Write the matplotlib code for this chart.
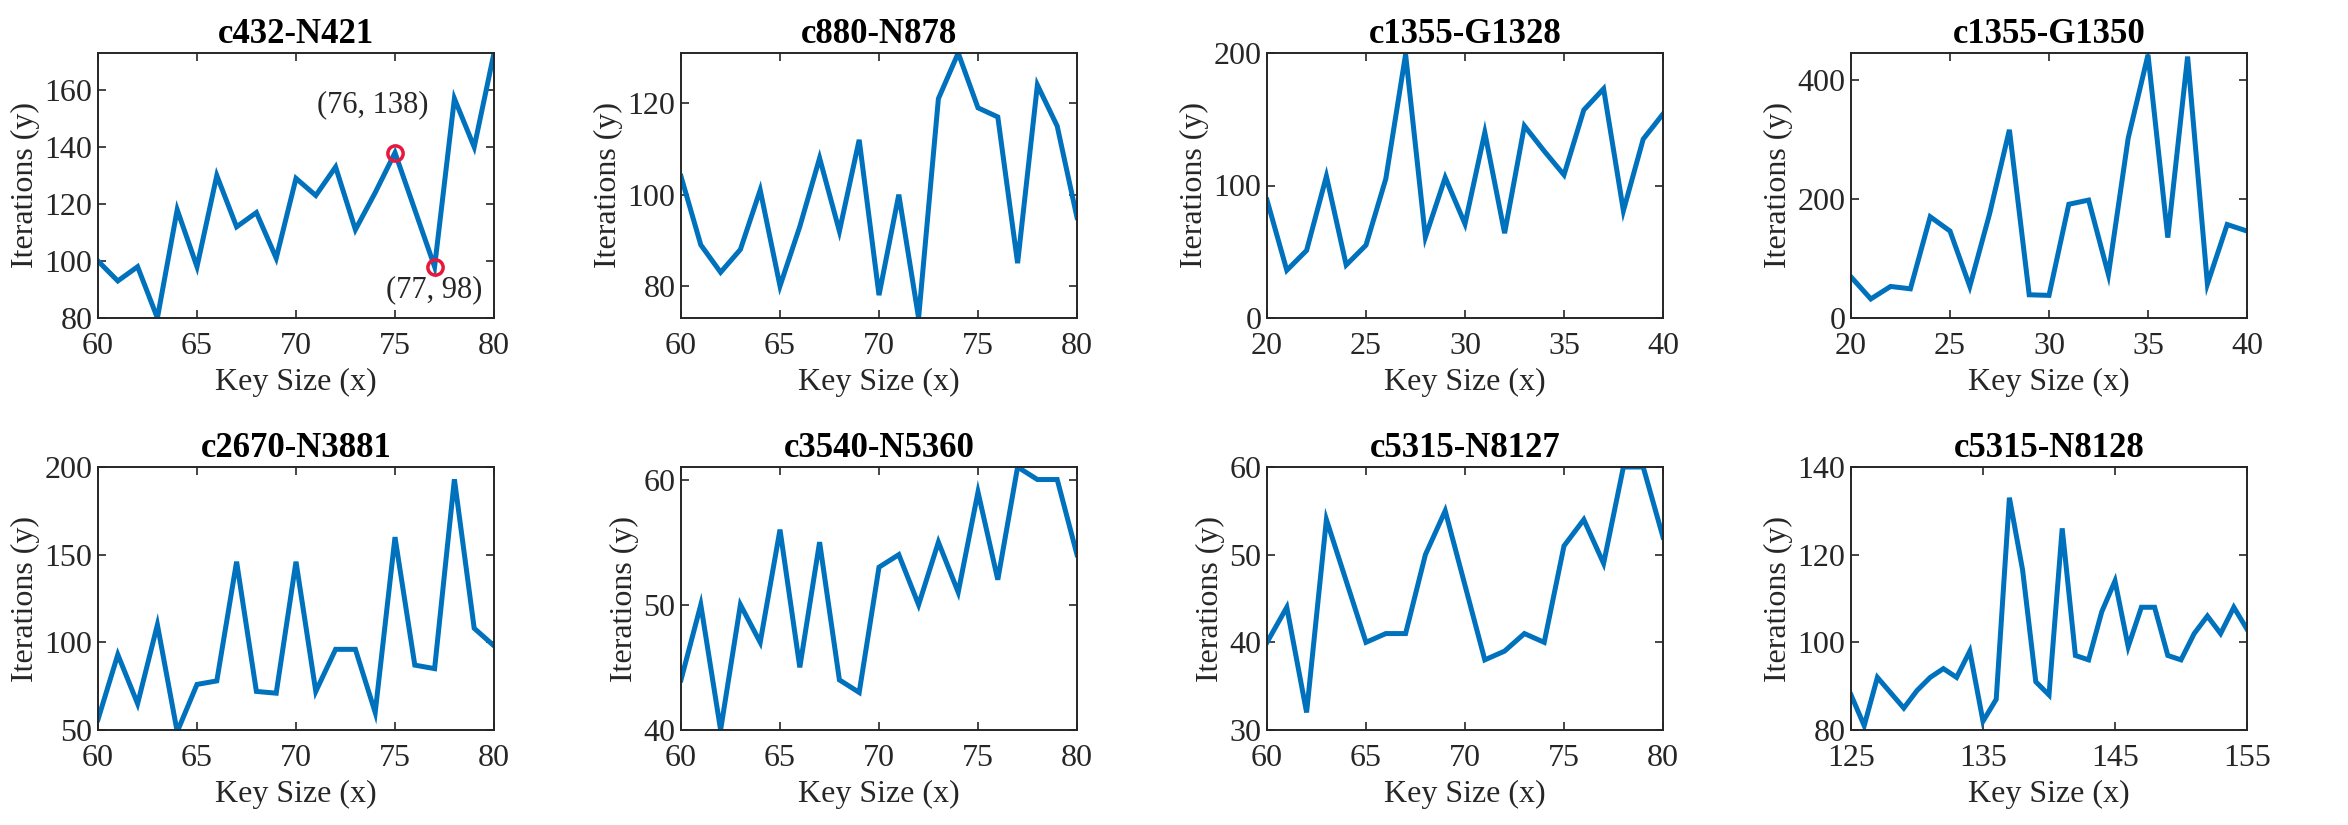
import matplotlib
matplotlib.use('Agg')
import matplotlib.pyplot as plt
import numpy as np

plt.rcParams['font.family'] = ['Liberation Serif', 'DejaVu Serif']

titles = ['c432-N421', 'c880-N878', 'c1355-G1328', 'c1355-G1350',
          'c2670-N3881', 'c3540-N5360', 'c5315-N8127', 'c5315-N8128']

x_60_80 = list(range(60, 81))
x_20_40 = list(range(20, 41))
x_125_155 = list(range(125, 156))

y_c432 = [100, 93, 98, 80, 118, 98, 130, 112, 117, 101, 129,
          123, 133, 111, 124, 138, 118, 98, 157, 140, 173]
y_c880 = [104, 89, 83, 88, 101, 80, 93, 108, 92, 112, 78,
          100, 73, 121, 131, 119, 117, 85, 124, 115, 95]
y_c1355_g1328 = [89, 36, 51, 107, 40, 55, 105, 199, 61, 106, 71,
                 140, 64, 145, 126, 108, 157, 173, 81, 135, 154]
y_c1355_g1350 = [69, 32, 53, 49, 170, 146, 53, 175, 316, 39, 38,
                 191, 198, 73, 302, 442, 135, 439, 57, 157, 146]
y_c2670 = [56, 93, 65, 110, 49, 76, 78, 146, 72, 71, 146,
           72, 96, 96, 60, 160, 87, 85, 193, 108, 98]
y_c3540 = [44, 50, 40, 50, 47, 56, 45, 55, 44, 43, 53,
           54, 50, 55, 51, 59, 52, 61, 60, 60, 54]
y_c5315_n8127 = [40, 44, 32, 54, 47, 40, 41, 41, 50, 55, 46.5,
                 38, 39, 41, 40, 51, 54, 49, 60, 60, 52]
y_c5315_n8128 = [88, 81, 92, 88.5, 85, 89, 92, 94, 92, 98, 82,
                 87, 133, 116.5, 91, 88, 126, 97, 96, 107, 114,
                 99, 108, 108, 97, 96, 102, 106, 102, 108, 103]

xs = [x_60_80, x_60_80, x_20_40, x_20_40, x_60_80, x_60_80, x_60_80, x_125_155]
ys = [y_c432, y_c880, y_c1355_g1328, y_c1355_g1350,
      y_c2670, y_c3540, y_c5315_n8127, y_c5315_n8128]

xlims = [(60, 80), (60, 80), (20, 40), (20, 40), (60, 80), (60, 80), (60, 80), (125, 155)]
ylims = [(80, 173), (73, 131), (0, 200), (0, 445), (50, 200), (40, 61), (30, 60), (80, 140)]
xticks = [np.arange(60, 81, 5)] * 2 + [np.arange(20, 41, 5)] * 2 + \
         [np.arange(60, 81, 5)] * 3 + [np.arange(125, 156, 10)]
yticks = [np.arange(80, 161, 20), [80, 100, 120], [0, 100, 200], [0, 200, 400],
          np.arange(50, 201, 50), [40, 50, 60], [30, 40, 50, 60], np.arange(80, 141, 20)]

# highlighted points on the first panel
mark_x = [75, 77]
mark_y = [138, 98]
mark_text = ['(76, 138)', '(77, 98)']
mark_text_pos = [(73.9, 155), (77.0, 90)]

W, H = 2348, 825
fig = plt.figure(figsize=(W / 100, H / 100), dpi=100)
lefts = [98, 681, 1267, 1851]
rows = [(53, 318), (467, 730)]

line_color = '#0072BD'
edge = '#262626'

for i in range(8):
    r, c = divmod(i, 4)
    top, bot = rows[r]
    ax = fig.add_axes([lefts[c] / W, 1 - bot / H, 396 / W, (bot - top) / H])
    ax.plot(xs[i], ys[i], color=line_color, linewidth=3.6, solid_joinstyle='miter')
    ax.set_xlim(xlims[i])
    ax.set_ylim(ylims[i])
    ax.set_xticks(xticks[i])
    ax.set_yticks(yticks[i])
    ax.tick_params(direction='in', top=True, right=True, length=6, width=1.2,
                   labelsize=23, colors=edge)
    ax.tick_params(axis='x', pad=10)
    ax.tick_params(axis='y', pad=4)
    for s in ax.spines.values():
        s.set_color(edge)
        s.set_linewidth(1.4)
    ax.set_title(titles[i], fontsize=25, fontweight='bold', pad=7)
    ax.set_xlabel('Key Size (x)', fontsize=23, color=edge, labelpad=5)
    ax.set_ylabel('Iterations (y)', fontsize=23, color=edge, labelpad=3)
    if i == 0:
        ax.plot(mark_x, mark_y, 'o', markersize=11, markerfacecolor='none',
                markeredgecolor='#E8173C', markeredgewidth=2.5)
        for t, (tx, ty) in zip(mark_text, mark_text_pos):
            ax.text(tx, ty, t, fontsize=22, ha='center', va='center', color=edge)

fig.savefig('out.png', dpi=100)
